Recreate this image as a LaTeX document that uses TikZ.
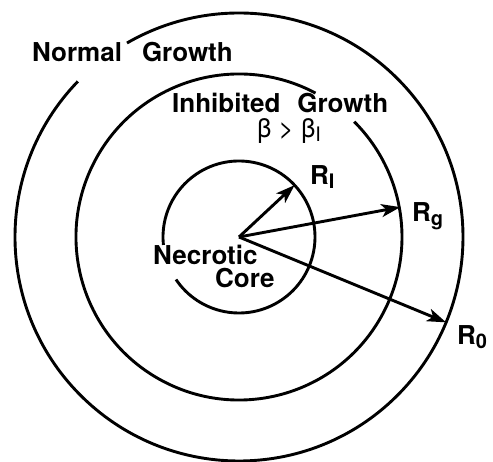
\documentclass[tikz,border=0pt]{standalone}
\usepackage{fontspec}
\setmainfont{TeX Gyre Heros}
\usetikzlibrary{arrows.meta}
\tikzset{
  >={Stealth[length=19pt,width=13pt,inset=5pt]},
  ring/.style={line width=2.9pt},
  rayarrow/.style={->,line width=2.9pt},
  lbl/.style={inner sep=0pt,anchor=base west,font=\fontsize{26}{30}\selectfont\bfseries}
}
\newcommand{\lowsub}[1]{\raisebox{-4pt}{\fontsize{20}{20}\selectfont #1}}

\begin{document}
\begin{tikzpicture}[x=1pt,y=1pt]
  \useasboundingbox (-239,-225) rectangle (254,237);
  \coordinate (c) at (0,0);
  % rings, left open where the labels cross them
  \draw[ring] (136:224) arc[start angle=136,end angle=480,radius=224];
  \draw[ring] (62:163) arc[start angle=62,end angle=405,radius=163];
  \draw[ring] (214:76) arc[start angle=214,end angle=546,radius=76];
  % radii
  \coordinate (tI) at (43:76);
  \coordinate (tg) at (10.5:164);
  \coordinate (t0) at (-22.4:224);
  \draw[rayarrow] (c) -- (tI);
  \draw[rayarrow] (c) -- (tg);
  \draw[rayarrow] (c) -- (t0);
  % labels
  \node[lbl] (normal) at (-207,175) {Normal\hspace{20pt}Growth};
  \node[lbl] (inhib) at (-67,124) {Inhibited\hspace{17pt}Growth};
  \node[lbl,font=\fontsize{26}{30}\selectfont] (beta) at (18,99) {β > β\lowsub{I}};
  \node[lbl] (necro) at (-86,-28) {Necrotic};
  \node[lbl] (core) at (-24,-51) {Core};
  \node[lbl] (rI) at (71,52) {R\lowsub{I}};
  \node[lbl] (rg) at (173,15) {R\lowsub{g}};
  \node[lbl] (r0) at (218,-108) {R\lowsub{0}};
\end{tikzpicture}
\end{document}
